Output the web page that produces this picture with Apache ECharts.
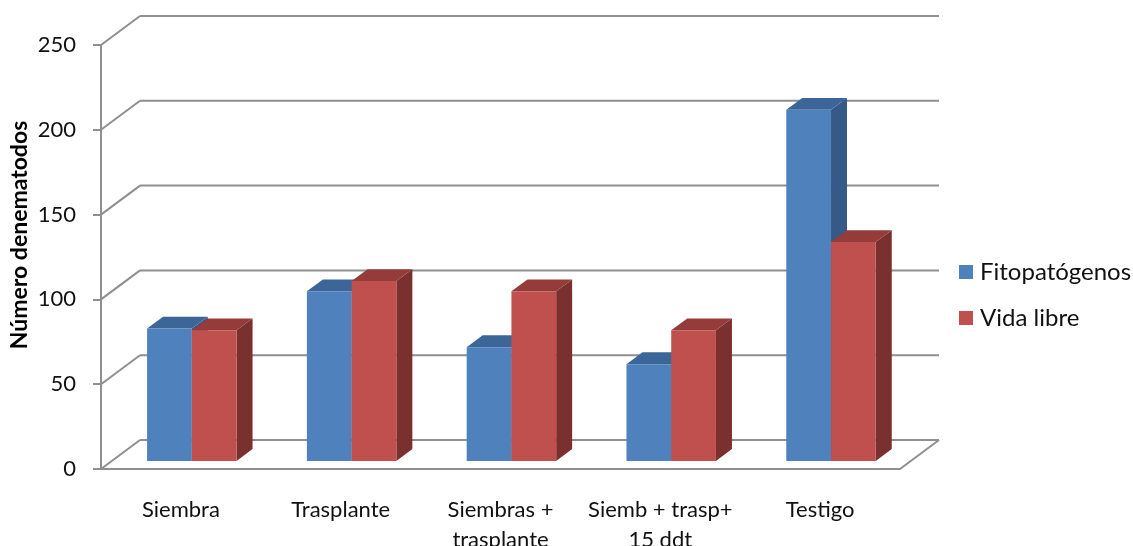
<!DOCTYPE html>
<html>
<head>
<meta charset="utf-8">
<script src="https://cdn.jsdelivr.net/npm/echarts@6/dist/echarts.min.js"></script>
<style>
  html, body { margin: 0; padding: 0; background: #fff; }
  #chart { width: 1133px; height: 546px; }
</style>
</head>
<body>
<div id="chart"></div>
<script>
// Nematode counts per treatment
const categories = ['Siembra', 'Trasplante', 'Siembras +\ntrasplante', 'Siemb + trasp+\n15 ddt', 'Testigo'];
const fitopatogenos = [78, 100, 67, 57, 207];
const vidaLibre = [77, 106, 100, 77, 129];
const yTicks = [0, 50, 100, 150, 200, 250];
const seriesNames = ['Fitopatógenos', 'Vida libre'];

// Oblique projection of the depth axis (front plane -> back wall)
const DEPTH = [39, -29];
const BAR_FRONT = 0.28;   // depth fraction of the column front faces
const BAR_BACK = 0.69;    // depth fraction of the column back faces
const BAR_WIDTH = 0.28;   // fraction of one category band per column

const FONT = 'Lato, "Open Sans", sans-serif';
const GRID_COLOR = '#8f8f8f';

const palettes = [
  { front: '#4f81bd', top: '#3d6698', side: '#365a87' },
  { front: '#c0504d', top: '#953c3a', side: '#7a302f' }
];

function columnRenderer(slot) {
  const pal = palettes[slot];
  return function (params, api) {
    const cat = api.value(0);
    const val = api.value(1);
    const band = api.size([1, 0])[0];
    const w = band * BAR_WIDTH;
    const base = api.coord([cat, 0]);
    const top = api.coord([cat, val]);
    const fx = DEPTH[0] * BAR_FRONT, fy = DEPTH[1] * BAR_FRONT;
    const dx = DEPTH[0] * (BAR_BACK - BAR_FRONT), dy = DEPTH[1] * (BAR_BACK - BAR_FRONT);
    const xL = base[0] + fx + (slot === 0 ? -w : 0);
    const xR = xL + w;
    const yB = base[1] + fy;
    const yT = top[1] + fy;
    return {
      type: 'group',
      children: [
        { type: 'polygon', shape: { points: [[xR, yT], [xR + dx, yT + dy], [xR + dx, yB + dy], [xR, yB]] },
          style: { fill: pal.side } },
        { type: 'polygon', shape: { points: [[xL, yT], [xR, yT], [xR + dx, yT + dy], [xL + dx, yT + dy]] },
          style: { fill: pal.top } },
        { type: 'rect', shape: { x: xL, y: yT, width: w, height: yB - yT },
          style: { fill: pal.front } }
      ]
    };
  };
}

// Back wall gridlines, their oblique links to the front axis, and the floor's right edge
function wallRenderer(params, api) {
  const cs = params.coordSys;
  const v = api.value(1);
  const y = api.coord([0, v])[1];
  const x0 = cs.x, x1 = cs.x + cs.width;
  const st = { stroke: GRID_COLOR, lineWidth: 2 };
  const children = [
    { type: 'line', shape: { x1: x0, y1: y, x2: x0 + DEPTH[0], y2: y + DEPTH[1] }, style: st },
    { type: 'line', shape: { x1: x0 + DEPTH[0], y1: y + DEPTH[1], x2: x1 + DEPTH[0], y2: y + DEPTH[1] }, style: st }
  ];
  if (v === 0) {
    children.push({ type: 'line', shape: { x1: x1, y1: y, x2: x1 + DEPTH[0], y2: y + DEPTH[1] }, style: st });
  }
  return { type: 'group', children: children };
}

const chart = echarts.init(document.getElementById('chart'), null, { renderer: 'canvas' });

chart.setOption({
  animation: false,
  backgroundColor: '#ffffff',
  color: [palettes[0].front, palettes[1].front],
  grid: { left: 101, right: 233, top: 45, bottom: 77, containLabel: false, outerBoundsMode: 'none' },
  xAxis: {
    type: 'category',
    data: categories,
    axisLine: { show: true, lineStyle: { color: GRID_COLOR, width: 2 } },
    axisTick: { show: false },
    axisLabel: { interval: 0, margin: 26, fontSize: 22, lineHeight: 30, color: '#111', fontFamily: FONT },
    splitLine: { show: false }
  },
  yAxis: {
    type: 'value',
    min: 0,
    max: 250,
    interval: 50,
    axisLine: { show: true, lineStyle: { color: GRID_COLOR, width: 2 } },
    axisTick: { show: true, length: 8, lineStyle: { color: GRID_COLOR, width: 2 } },
    axisLabel: { margin: 25, fontSize: 22, color: '#111', fontFamily: FONT },
    splitLine: { show: false }
  },
  legend: {
    data: seriesNames,
    orient: 'vertical',
    left: 954,
    top: 254,
    icon: 'rect',
    itemWidth: 14,
    itemHeight: 14,
    itemGap: 20,
    textStyle: { fontSize: 24, lineHeight: 26, color: '#111', fontFamily: FONT, padding: [0, 0, 0, 2] }
  },
  graphic: [{
    type: 'text',
    x: 20,
    y: 235,
    rotation: Math.PI / 2,
    style: {
      text: 'Número denematodos',
      fontSize: 23,
      fontWeight: 'bold',
      fontFamily: FONT,
      fill: '#000',
      align: 'center',
      verticalAlign: 'middle'
    }
  }],
  series: [
    {
      type: 'custom',
      silent: true,
      z: 1,
      renderItem: wallRenderer,
      data: yTicks.map(v => [0, v])
    },
    {
      name: seriesNames[0],
      type: 'custom',
      z: 2,
      itemStyle: { color: palettes[0].front },
      renderItem: columnRenderer(0),
      data: fitopatogenos.map((v, i) => [i, v])
    },
    {
      name: seriesNames[1],
      type: 'custom',
      z: 3,
      itemStyle: { color: palettes[1].front },
      renderItem: columnRenderer(1),
      data: vidaLibre.map((v, i) => [i, v])
    }
  ]
});
</script>
</body>
</html>
